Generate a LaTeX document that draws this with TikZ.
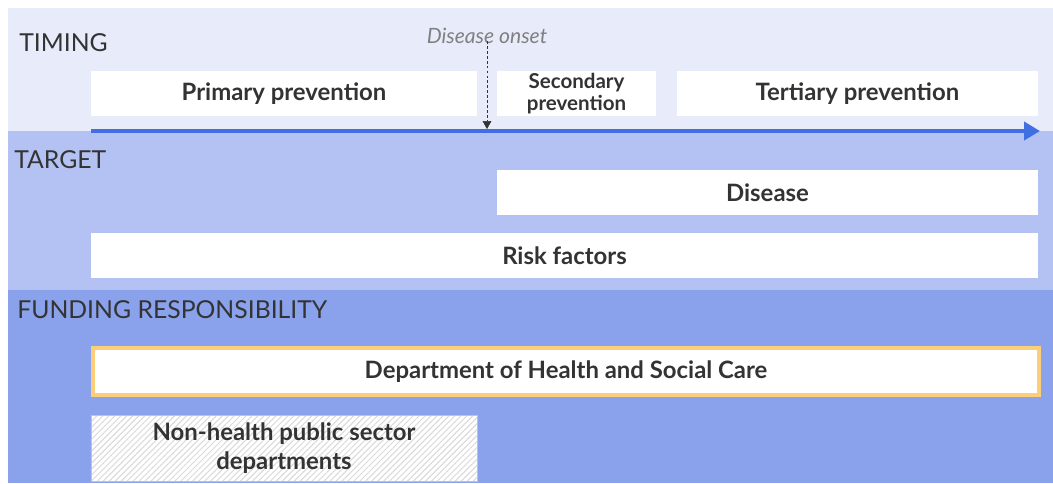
\documentclass[tikz,border=0pt]{standalone}
\usepackage{fontspec}
\setmainfont{Lato}
\usetikzlibrary{arrows.meta,patterns.meta}

\definecolor{bandA}{RGB}{232,235,250}
\definecolor{bandB}{RGB}{179,194,242}
\definecolor{bandC}{RGB}{138,161,235}
\definecolor{lineblue}{RGB}{65,110,225}
\definecolor{edgeorange}{RGB}{251,207,122}
\definecolor{inkgray}{RGB}{51,51,51}

\begin{document}
\begin{tikzpicture}[
  x=0.025cm, y=-0.025cm,
  every node/.style={text=inkgray, inner sep=0pt},
  heading/.style={anchor=west, font=\fontsize{17.6}{20}\selectfont},
  box/.style={fill=white, minimum height=1.125cm, align=center, font=\fontsize{17}{21}\selectfont\bfseries},
  smallbox/.style={box, font=\fontsize{14.6}{16}\selectfont\bfseries}
]
\useasboundingbox (0,0) rectangle (1053,483);

% bands
\fill[bandA] (8,8) rectangle (1053,131);
\fill[bandB] (8,131) rectangle (1053,290);
\fill[bandC] (8,290) rectangle (1053,483);

\node[heading] (timing) at (19,43) {TIMING};
\node[heading] (target) at (14,160) {TARGET};
\node[heading] (funding) at (17,310) {FUNDING RESPONSIBILITY};

% timing
\node[box, minimum width=9.65cm] (prim) at (284,93.5) {Primary prevention};
\node[smallbox, minimum width=3.975cm] (sec) at (576.5,93.5) {Secondary\\prevention};
\node[box, minimum width=9.025cm] (tert) at (857.5,93.5) {Tertiary prevention};

\coordinate (tstart) at (91,131);
\coordinate (tend) at (1040,131);
\draw[lineblue, line width=0.1cm, -{Triangle[length=4mm,width=4.5mm]}] (tstart) -- (tend);

\node[text=gray, font=\fontsize{15}{17}\selectfont\itshape] (onset) at (487,36) {Disease onset};
\coordinate (onsetend) at (487,129);
\draw[inkgray, dashed, dash pattern=on 2pt off 1.5pt, -{Triangle[length=2mm,width=2.2mm]}] (onset.south) ++(0,-3) -- (onsetend);

% target
\node[box, minimum width=13.525cm] (dis) at (767.5,192.5) {Disease};
\node[box, minimum width=23.675cm] (risk) at (564.5,255.5) {Risk factors};

% funding
\node[box, draw=edgeorange, line width=0.1cm, minimum width=23.65cm, minimum height=1.175cm] (dhsc) at (566,371.5) {Department of Health and Social Care};
\node[box, draw=bandB, thin, preaction={fill=white},
  pattern={Lines[angle=45,distance=3pt,line width=0.7pt]}, pattern color=gray!30,
  minimum width=9.65cm, minimum height=1.65cm] (nonh) at (284,448) {Non-health public sector\\departments};
\end{tikzpicture}
\end{document}
